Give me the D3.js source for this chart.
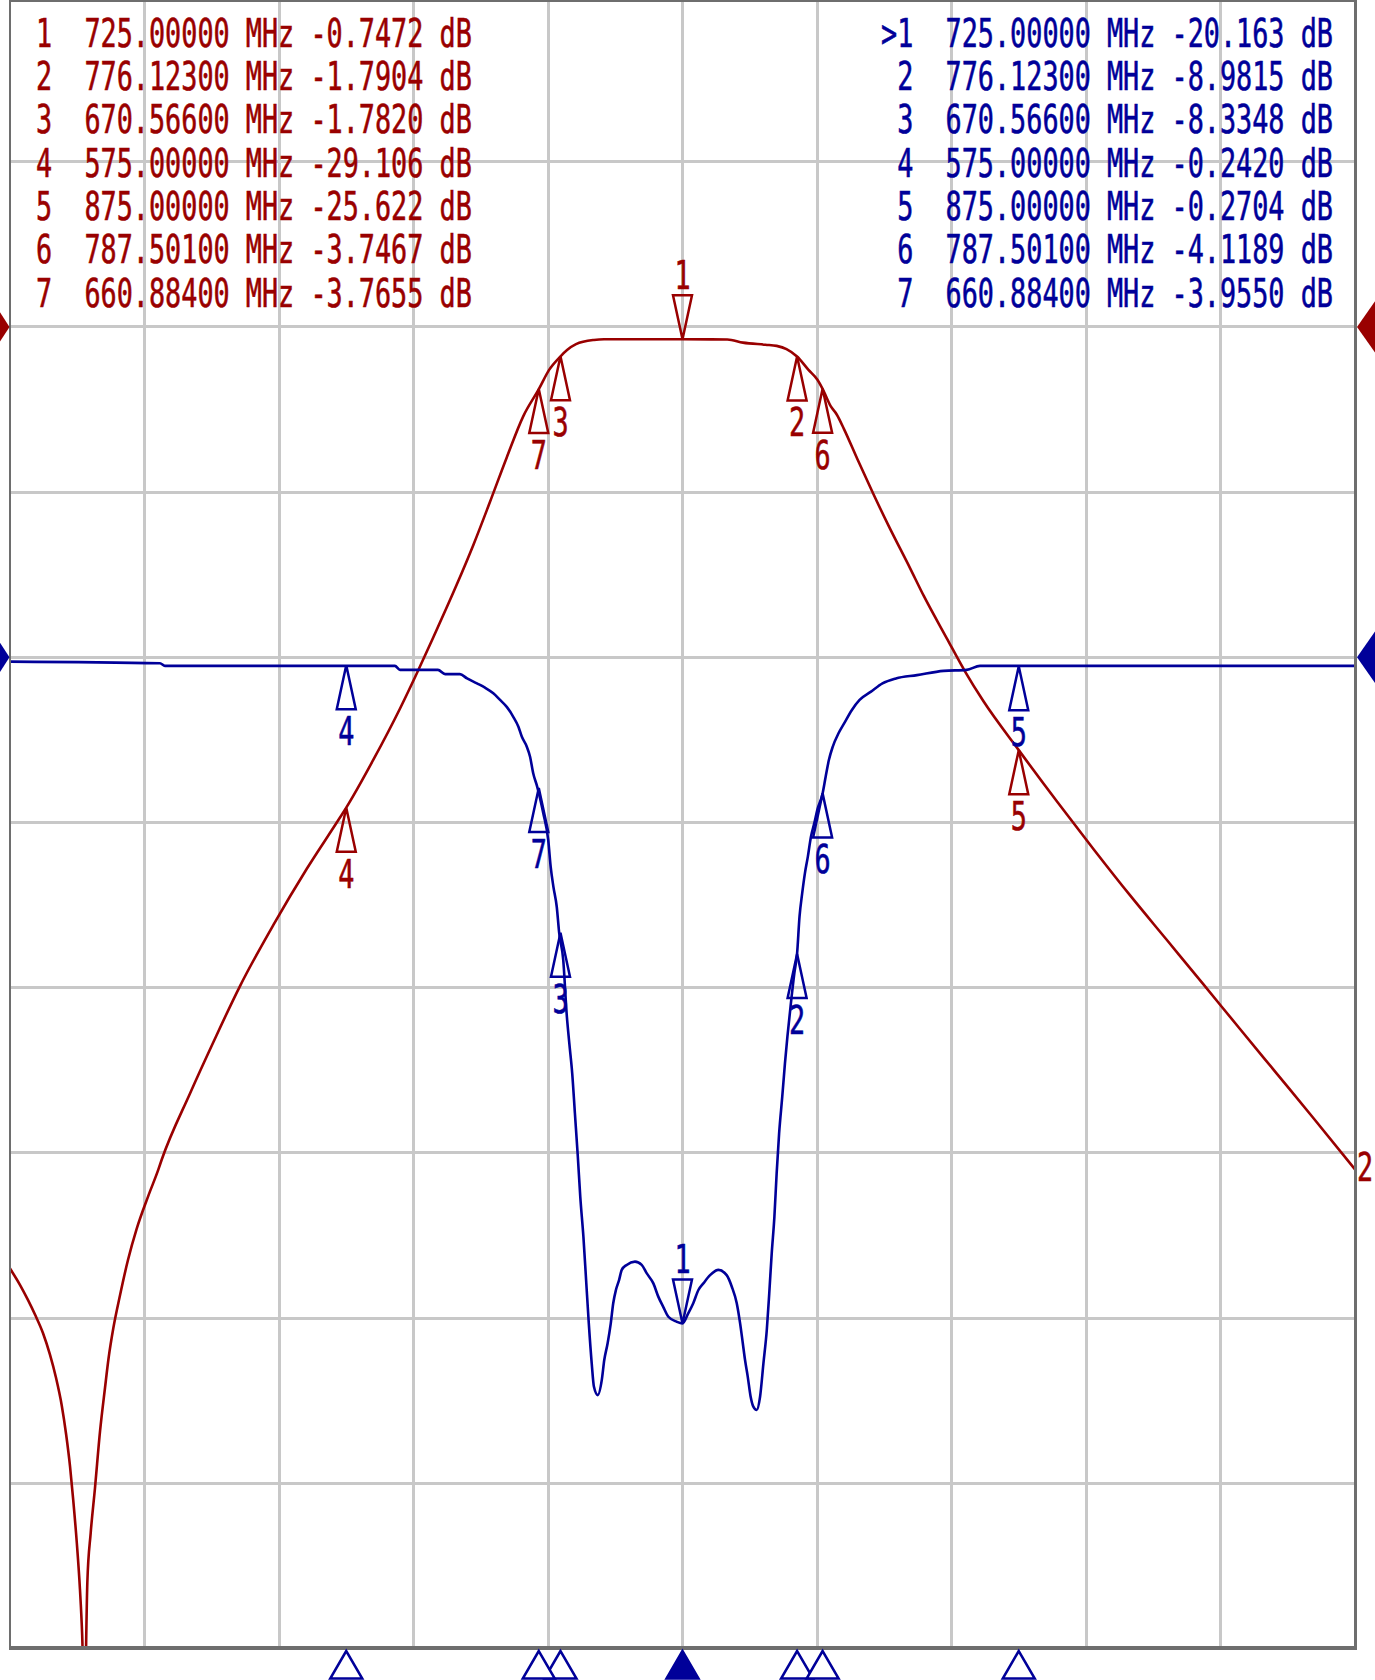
<!DOCTYPE html>
<html><head><meta charset="utf-8">
<script src="https://cdn.jsdelivr.net/npm/d3@7"></script>
<style>html,body{margin:0;padding:0;background:#fff}svg{display:block}</style>
</head><body>
<svg id="c" width="1375" height="1680"></svg>
<script>
// ---------------- DATA ----------------
const xGridMHz = [485, 545, 605, 665, 725, 785, 845, 905, 965];
const yGridS21Db = [10, 0, -10, -20, -30, -40, -50, -60, -70];

const markerNo   = [1, 2, 3, 4, 5, 6, 7];
const markerFreq = [725.0, 776.123, 670.566, 575.0, 875.0, 787.501, 660.884];
const markerS21  = [-0.7472, -1.7904, -1.7820, -29.106, -25.622, -3.7467, -3.7655];
const markerS11  = [-20.163, -8.9815, -8.3348, -0.2420, -0.2704, -4.1189, -3.9550];

const s21Freq = [425.0,429.5,433.0,436.2,439.7,442.8,445.5,448.1,450.0,451.8,453.2,454.8,456.2,457.2,458.2,
  459.5,461.0,462.9,465.2,467.4,469.0,471.1,474.1,477.6,481.5,486.7,491.2,492.7,
  505.3,515.7,527.6,542.5,557.4,572.2,575.0,587.1,599.0,606.4,613.8,624.3,631.7,639.1,646.6,654.0,660.9,665.5,670.6,
  673.5,677.5,685.5,690.0,725.0,745.0,752.0,762.0,767.0,771.4,776.1,781.2,785.2,787.5,791.1,793.8,797.1,803.0,810.1,
  816.8,826.5,832.7,842.9,851.0,859.2,875.0,891.9,908.3,924.6,941.0,957.4,973.7,990.1,1006.5,1025.0];
const s21Db = [-57.0,-58.0,-58.9,-59.8,-60.9,-62.2,-63.6,-65.3,-67.0,-69.0,-71.0,-73.6,-76.4,-79.2,-84.0,
  -76.0,-73.0,-70.3,-66.8,-64.2,-62.4,-60.6,-58.6,-56.5,-54.6,-52.6,-51.0,-50.4,
  -46.4,-43.3,-39.9,-36.2,-32.8,-29.7,-29.1,-26.2,-23.1,-21.0,-18.8,-15.6,-13.2,-10.6,-7.9,-5.4,-3.77,-2.6,-1.78,
  -1.4,-1.04,-0.79,-0.75,-0.75,-0.76,-0.95,-1.08,-1.15,-1.34,-1.79,-2.6,-3.2,-3.75,-4.8,-5.3,-6.2,-8.0,-10.1,
  -12.0,-14.6,-16.3,-18.85,-20.85,-22.65,-25.62,-28.7,-31.6,-34.4,-37.1,-39.8,-42.5,-45.2,-47.9,-51.0];

const s11Freq = [425.0,491.9,494.1,596.7,599.0,615.9,619.1,625.7,628.9,633.3,636.9,640.6,643.6,646.6,649.5,651.8,653.3,
  655.5,657.0,658.4,660.2,662.9,665.1,666.2,667.4,668.9,670.0,671.8,673.3,674.5,675.8,677.0,678.3,679.4,680.8,682.0,
  683.2,684.5,685.5,687.2,689.0,690.1,691.6,693.0,694.1,695.3,696.7,697.9,700.1,703.8,706.8,709.0,712.0,714.2,716.4,
  718.7,722.4,725.0,727.6,729.8,732.1,734.3,737.3,741.0,744.7,747.0,749.2,750.7,751.9,752.9,754.1,755.4,756.6,758.1,
  759.6,761.1,762.6,763.7,764.8,766.0,767.0,768.1,769.5,770.7,771.8,773.2,774.9,776.1,777.2,778.4,779.6,780.9,782.3,
  783.8,785.2,787.5,788.9,790.3,792.0,794.6,797.1,800.5,804.0,809.1,814.2,820.2,829.6,841.5,851.8,857.7,1025.0];
const s11Db = [-0.13,-0.18,-0.26,-0.26,-0.38,-0.38,-0.51,-0.51,-0.64,-0.79,-0.92,-1.09,-1.29,-1.50,-1.80,-2.10,-2.40,
  -2.70,-3.01,-3.51,-3.92,-4.72,-5.53,-6.34,-6.94,-7.55,-8.35,-9.16,-10.77,-11.68,-12.59,-13.80,-15.11,-16.33,-17.54,-18.85,
  -20.16,-21.37,-22.08,-22.33,-21.87,-21.27,-20.76,-20.16,-19.55,-19.15,-18.85,-18.54,-18.39,-18.29,-18.39,-18.64,-18.95,-19.35,-19.66,
  -19.96,-20.11,-20.16,-19.85,-19.55,-19.15,-18.95,-18.70,-18.54,-18.70,-19.05,-19.55,-20.16,-20.76,-21.27,-21.77,-22.38,-22.68,-22.78,
  -22.38,-21.37,-20.36,-19.25,-18.04,-16.93,-15.62,-14.41,-13.30,-12.29,-11.48,-10.57,-9.56,-8.98,-7.85,-7.14,-6.54,-6.04,-5.43,
  -5.02,-4.60,-4.12,-3.60,-3.11,-2.71,-2.30,-2.00,-1.60,-1.29,-1.04,-0.79,-0.64,-0.54,-0.41,-0.38,-0.26,-0.26];

// ---------------- STYLE ----------------
const RED = "#990000", BLUE = "#000099", GRID = "#c8c8c8", FRAME = "#6e6e6e";
const FONT = "'DejaVu Sans Mono', 'Liberation Mono', monospace";
const FS = 39, ADV = 16.15, NATADV = 0.6021 * FS, SX = ADV / NATADV;

// ---------------- SCALES ----------------
const X0 = 10, X1 = 1355, Y0 = -3.5, Y1 = 1648.5;
const x = d3.scaleLinear().domain([425, 1025]).range([X0, X1]);
const yS21 = d3.scaleLinear().domain([20, -80]).range([Y0, Y1]);
const yS11 = d3.scaleLinear().domain([20, -30]).range([Y0, Y1]);

const svg = d3.select("#c");
svg.append("rect").attr("width", 1375).attr("height", 1680).attr("fill", "#fff");

svg.append("defs").append("clipPath").attr("id", "plotclip")
  .append("rect").attr("x", X0).attr("y", 0).attr("width", X1 - X0).attr("height", Y1 - 0.5);

// grid
const grid = svg.append("g").attr("stroke", GRID).attr("stroke-width", 3).attr("shape-rendering", "crispEdges");
grid.selectAll("line.v").data(xGridMHz).join("line").attr("class", "v")
  .attr("x1", d => x(d)).attr("x2", d => x(d)).attr("y1", 0).attr("y2", Y1);
grid.selectAll("line.h").data(yGridS21Db).join("line").attr("class", "h")
  .attr("x1", X0).attr("x2", X1).attr("y1", d => yS21(d)).attr("y2", d => yS21(d));

// text helper: monospace text horizontally condensed to the analyzer's cell width
function mono(g, str, xx, yy, color, anchor) {
  const len = str.length * ADV;
  const x0 = anchor === "middle" ? xx - len / 2 : anchor === "end" ? xx - len : xx;
  return g.append("text").attr("x", 0).attr("y", 0)
    .attr("transform", `translate(${x0},${yy}) scale(${SX},1)`)
    .attr("fill", color).attr("stroke", color).attr("stroke-width", 0.6)
    .style("font-family", FONT).style("font-size", FS + "px")
    .text(str.replace(/ /g, "\u00A0"));
}
const fmtDb = v => Math.abs(v) < 10 ? v.toFixed(4) : v.toFixed(3);

// marker tables
const tbl = svg.append("g");
markerNo.forEach((n, i) => {
  const yy = 46.7 + 43.3 * i;
  mono(tbl, `${n}  ${markerFreq[i].toFixed(5)} MHz ${fmtDb(markerS21[i])} dB`, 36, yy, RED, "start");
  mono(tbl, `${i === 0 ? ">" : " "}${n}  ${markerFreq[i].toFixed(5)} MHz ${fmtDb(markerS11[i])} dB`, 881, yy, BLUE, "start");
});

// traces
const traces = svg.append("g").attr("clip-path", "url(#plotclip)");
const lineS21 = d3.line().curve(d3.curveMonotoneX).x(d => x(d[0])).y(d => yS21(d[1]));
const lineS11 = d3.line().curve(d3.curveMonotoneX).x(d => x(d[0])).y(d => yS11(d[1]));
traces.append("path").datum(s21Freq.map((f, i) => [f, s21Db[i]]))
  .attr("d", lineS21).attr("fill", "none").attr("stroke", RED).attr("stroke-width", 2.6)
  .attr("stroke-linejoin", "round");
traces.append("path").datum(s11Freq.map((f, i) => [f, s11Db[i]]))
  .attr("d", lineS11).attr("fill", "none").attr("stroke", BLUE).attr("stroke-width", 2.6)
  .attr("stroke-linejoin", "round");

// markers on traces
function drawMarkers(yScale, vals, color) {
  const g = svg.append("g");
  markerNo.forEach((n, i) => {
    const mx = x(markerFreq[i]), my = yScale(vals[i]);
    if (i === 0) {
      g.append("path").attr("d", `M${mx},${my} L${mx - 9.5},${my - 44} L${mx + 9.5},${my - 44} Z`)
        .attr("fill", "none").attr("stroke", color).attr("stroke-width", 2.5).attr("stroke-linejoin", "miter");
      mono(g, String(n), mx, my - 50, color, "middle");
    } else {
      g.append("path").attr("d", `M${mx},${my} L${mx - 9.5},${my + 44} L${mx + 9.5},${my + 44} Z`)
        .attr("fill", "none").attr("stroke", color).attr("stroke-width", 2.5).attr("stroke-linejoin", "miter");
      mono(g, String(n), mx, my + 80, color, "middle");
    }
  });
}
drawMarkers(yS21, markerS21, RED);
drawMarkers(yS11, markerS11, BLUE);

// frame
const frame = svg.append("g").attr("stroke", FRAME).attr("fill", "none").attr("shape-rendering", "crispEdges");
frame.append("line").attr("x1", X0).attr("x2", X0).attr("y1", 0).attr("y2", Y1).attr("stroke-width", 2.5);
frame.append("line").attr("x1", X1).attr("x2", X1).attr("y1", 0).attr("y2", Y1).attr("stroke-width", 3);
frame.append("line").attr("x1", X0 - 1).attr("x2", X1 + 1.5).attr("y1", Y1 - 0.5).attr("y2", Y1 - 0.5).attr("stroke-width", 3.5);
frame.append("line").attr("x1", X0).attr("x2", X1).attr("y1", 1).attr("y2", 1).attr("stroke-width", 2.5);

// stimulus markers along the bottom
const bot = svg.append("g");
markerNo.forEach((n, i) => {
  const mx = x(markerFreq[i]);
  bot.append("path").attr("d", `M${mx},1651 L${mx - 16},1678.5 L${mx + 16},1678.5 Z`)
    .attr("fill", i === 0 ? BLUE : "#fff").attr("stroke", BLUE).attr("stroke-width", 2.5)
    .attr("stroke-linejoin", "miter");
});

// reference level arrows
function refArrow(yy, color) {
  svg.append("path").attr("d", `M9.5,${yy} L-10,${yy - 30} L-10,${yy + 30} Z`).attr("fill", color);
  svg.append("path").attr("d", `M1357,${yy} L1378,${yy - 30} L1378,${yy + 30} Z`).attr("fill", color);
}
refArrow(yS21(0), RED);
refArrow(yS11(0), BLUE);

// trace number label at end of S21 trace
mono(svg, "2", 1357, yS21(s21Db[s21Db.length - 1]) + 12, RED, "start");
</script></body></html>
